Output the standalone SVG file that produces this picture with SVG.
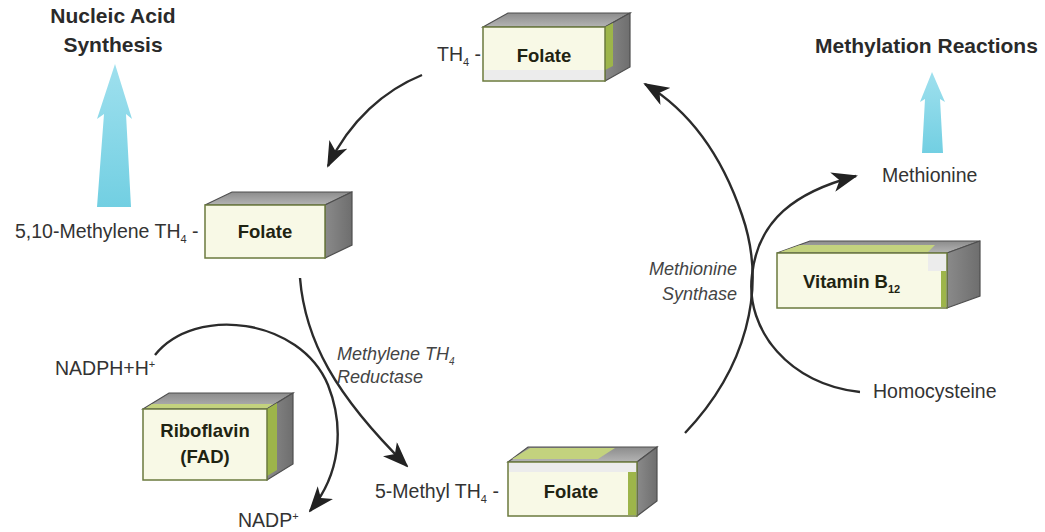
<svg xmlns="http://www.w3.org/2000/svg" width="1045" height="532" viewBox="0 0 1045 532">
<defs>
<linearGradient id="topG" x1="0" y1="1" x2="0" y2="0"><stop offset="0" stop-color="#b4b4b4"/><stop offset="1" stop-color="#8c8c8c"/></linearGradient>
<linearGradient id="sideG" x1="0" y1="0" x2="1" y2="0"><stop offset="0" stop-color="#8a8a8a"/><stop offset="1" stop-color="#6e6e6e"/></linearGradient>
<linearGradient id="blueG" x1="0" y1="0" x2="0" y2="1"><stop offset="0" stop-color="#9fe0ee"/><stop offset="1" stop-color="#72cfe2"/></linearGradient>
<marker id="ah" markerUnits="userSpaceOnUse" viewBox="0 0 26 20" markerWidth="26" markerHeight="20" refX="24" refY="10" orient="auto">
<path d="M0,0 L26,10 L0,20 L7,10 z" fill="#222"/>
</marker>
<style>
.front{fill:#f8f9e6;stroke:#6b7a3e;stroke-width:1.5}
.top{fill:url(#topG);stroke:#4f4f4f;stroke-width:1.2}
.side{fill:url(#sideG);stroke:#4f4f4f;stroke-width:1.2}
.grn{fill:#9db54a}
.lgrn{fill:#c3d27e}
.band{fill:#ececec}
.conn{fill:none;stroke:#2b2b2b;stroke-width:2.4;marker-end:url(#ah)}
.lbl{font-family:"Liberation Sans",Arial,sans-serif;font-size:19.5px;fill:#333}
.it{font-family:"Liberation Sans",Arial,sans-serif;font-size:18px;font-style:italic;fill:#444}
.ttl{font-family:"Liberation Sans",Arial,sans-serif;font-size:21px;font-weight:bold;fill:#2a2a2a}
.box{font-family:"Liberation Sans",Arial,sans-serif;font-size:18.5px;font-weight:bold;fill:#1f2412}
.blue{fill:url(#blueG)}
</style>
</defs>

<g id="nucleic-acid">
<polygon class="blue" points="115,64 132,119 126,114 131,207 97,207 104,114 97,119"/>
<text class="ttl" x="113" y="23" text-anchor="middle">Nucleic Acid</text>
<text class="ttl" x="113" y="52" text-anchor="middle">Synthesis</text>
</g>

<g id="methylation">
<polygon class="blue" points="932,72 945,102 940,99 943,153 922,153 925,99 920,102"/>
<text class="ttl" x="815" y="53">Methylation Reactions</text>
</g>

<g id="connectors">
<path class="conn" d="M 422 75 C 385 90 350 120 328 166"/>
<path class="conn" d="M 685 433 C 745 370 768 290 742 215 C 720 150 685 108 645 84"/>
<path class="conn" d="M 860 392 C 790 385 745 330 752 275 C 758 220 795 192 856 176"/>
<path class="conn" d="M 300 278 C 305 340 335 395 407 466"/>
<path class="conn" d="M 155 355 C 195 305 300 318 328 385 C 345 428 340 475 310 511"/>
</g>

<g id="folate-th4">
<polygon class="top" points="483,27 508,13 630,13 605,27"/>
<polygon class="side" points="605,27 630,13 630,67 605,81"/>
<polygon class="grn" points="605,27 613,23 613,66 605,70"/>
<rect class="front" x="483" y="27" width="122" height="54"/>
<rect class="band" x="484" y="70" width="120" height="10"/>
<text class="box" x="544" y="62" text-anchor="middle">Folate</text>
<text class="lbl" x="437" y="61">TH<tspan font-size="11" dy="5">4</tspan><tspan dy="-5"> -</tspan></text>
</g>

<g id="folate-methylene">
<polygon class="top" points="205,205 232,192 352,192 325,205"/>
<polygon class="side" points="325,205 352,192 352,245 325,258"/>
<rect class="front" x="205" y="205" width="120" height="53"/>
<text class="box" x="265" y="238" text-anchor="middle">Folate</text>
<text class="lbl" x="15" y="238">5,10-Methylene TH<tspan font-size="11" dy="5">4</tspan><tspan dy="-5"> -</tspan></text>
</g>

<g id="folate-methyl">
<polygon class="top" points="508,462 528,447 657,447 637,462"/>
<polygon class="lgrn" points="512,459 530,448 615,448 598,459"/>
<polygon class="side" points="637,462 657,447 657,501 637,516"/>
<rect class="front" x="508" y="462" width="129" height="54"/>
<rect class="band" x="509" y="463" width="127" height="9"/>
<rect class="grn" x="628" y="472" width="8" height="43"/>
<text class="box" x="571" y="498" text-anchor="middle">Folate</text>
<text class="lbl" x="375" y="498">5-Methyl TH<tspan font-size="11" dy="5">4</tspan><tspan dy="-5"> -</tspan></text>
</g>

<g id="vitamin-b12">
<polygon class="top" points="777,253 810,241 980,241 947,253"/>
<polygon class="lgrn" points="780,252 800,245 935,245 928,252"/>
<polygon class="side" points="947,253 980,241 980,296 947,308"/>
<rect class="front" x="777" y="253" width="170" height="55"/>
<rect class="band" x="928" y="254" width="18" height="17"/>
<rect class="grn" x="941" y="271" width="5" height="36"/>
<text class="box" x="803" y="288">Vitamin B<tspan font-size="11" dy="5">12</tspan></text>
</g>

<g id="riboflavin">
<polygon class="top" points="143,409 169,393 293,393 267,409"/>
<polygon class="lgrn" points="146,408 152,404 273,404 267,408"/>
<polygon class="side" points="267,409 293,393 293,464 267,480"/>
<polygon class="grn" points="267,409 277,403 277,470 267,476"/>
<rect class="front" x="143" y="409" width="124" height="71"/>
<text class="box" x="205" y="437" text-anchor="middle">Riboflavin</text>
<text class="box" x="205" y="463" text-anchor="middle">(FAD)</text>
</g>

<g id="labels">
<text class="lbl" x="882" y="182">Methionine</text>
<text class="lbl" x="873" y="398">Homocysteine</text>
<text class="lbl" x="55" y="375">NADPH+H<tspan font-size="11" dy="-7">+</tspan></text>
<text class="lbl" x="238" y="527">NADP<tspan font-size="11" dy="-7">+</tspan></text>
<text class="it" x="737" y="275" text-anchor="end">Methionine</text>
<text class="it" x="737" y="300" text-anchor="end">Synthase</text>
<text class="it" x="337" y="360">Methylene TH<tspan font-size="10" dy="5">4</tspan></text>
<text class="it" x="337" y="383">Reductase</text>
</g>
</svg>
